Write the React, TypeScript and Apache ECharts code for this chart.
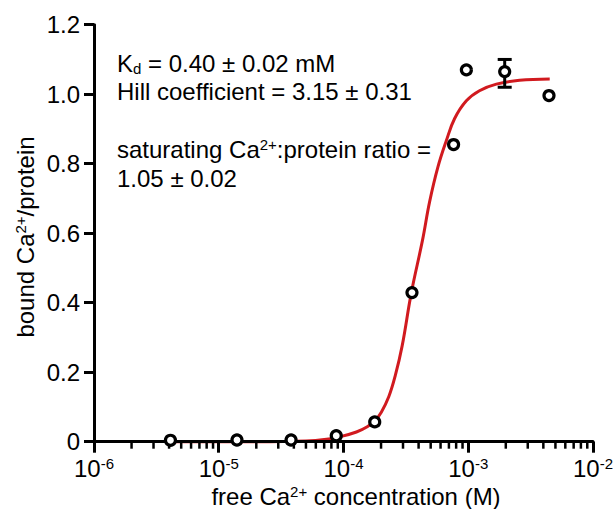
import React, { useEffect, useRef } from "react";
import * as echarts from "echarts";

// Measured data points (free Ca2+ in M, bound Ca2+/protein)
const concentrations = [4.1e-6, 1.4e-5, 3.8e-5, 8.75e-5, 1.78e-4, 3.54e-4, 7.63e-4, 9.66e-4, 1.96e-3, 4.44e-3];
const bound = [0.004, 0.005, 0.005, 0.017, 0.057, 0.429, 0.855, 1.07, 1.065, 0.996];

// Error bar (only visible one)
const errorX = [1.96e-3];
const errorLow = [1.02];
const errorHigh = [1.10];

// Fitted curve
const fitX = [4.1e-6, 2e-5, 5e-5, 7.3e-5, 9.3e-5, 1.27e-4, 1.55e-4, 1.78e-4, 2.01e-4, 2.31e-4, 2.6e-4, 2.95e-4, 3.5e-4, 4.3e-4, 4.9e-4, 5.71e-4, 6.67e-4, 7.78e-4, 9.66e-4, 1.23e-3, 1.68e-3, 2.58e-3, 4.5e-3];
const fitY = [0, 0, 0.002, 0.007, 0.014, 0.028, 0.043, 0.06, 0.085, 0.13, 0.19, 0.275, 0.429, 0.58, 0.69, 0.79, 0.866, 0.93, 0.981, 1.01, 1.029, 1.04, 1.044];

// Minor tick positions on the log axis
const minorTickValues: number[] = [];
[1e-6, 1e-5, 1e-4, 1e-3].forEach((d) => {
  [2, 3, 4, 5, 6, 7, 8, 9].forEach((m) => minorTickValues.push(m * d));
});

const annotationLines = [
  "{t|K}{sub|d}{t| = 0.40 ± 0.02 mM}",
  "{t|Hill coefficient = 3.15 ± 0.31}",
  "{t|saturating Ca}{sup|2+}{t|:protein ratio =}",
  "{t|1.05 ± 0.02}",
];

const FONT = "'Liberation Sans', Arial, Helvetica, sans-serif";
const FS = 24;

export default function App() {
  const ref = useRef<HTMLDivElement>(null);
  useEffect(() => {
    document.body.style.margin = "0";
    if (!ref.current) return;
    const chart = echarts.init(ref.current, null, { renderer: "svg" });
    const richBase = {
      t: { fontSize: FS, fontFamily: FONT, color: "#000" },
      sup: { fontSize: 15, fontFamily: FONT, color: "#000", padding: [0, 0, 10, 0] },
      sub: { fontSize: 15, fontFamily: FONT, color: "#000", padding: [10, 0, 0, 0] },
    };
    const annY = [63, 91, 149, 178];
    const option: any = {
      animation: false,
      grid: { left: 94, right: 22, top: 24.7, bottom: 67.3, containLabel: false },
      xAxis: {
        type: "log",
        logBase: 10,
        min: 1e-6,
        max: 1e-2,
        z: 3,
        axisLine: { show: true, onZero: false, lineStyle: { color: "#000", width: 3 } },
        axisTick: { show: true, length: 11, lineStyle: { color: "#000", width: 3 } },
        splitLine: { show: false },
        axisLabel: {
          margin: 14,
          formatter: (v: number) => `{b|10}{s|${Math.round(Math.log10(v))}}`,
          rich: {
            b: { fontSize: FS, fontFamily: FONT, color: "#000" },
            s: { fontSize: 15, fontFamily: FONT, color: "#000", padding: [0, 0, 10, 0] },
          },
        },
      },
      yAxis: {
        type: "value",
        min: 0,
        max: 1.2,
        interval: 0.2,
        z: 3,
        axisLine: { show: true, lineStyle: { color: "#000", width: 3 } },
        axisTick: { show: true, length: 10, lineStyle: { color: "#000", width: 3 } },
        splitLine: { show: false },
        axisLabel: {
          margin: 14,
          fontSize: FS,
          fontFamily: FONT,
          color: "#000",
          formatter: (v: number) => (v === 0 ? "0" : v.toFixed(1)),
        },
      },
      series: [
        {
          type: "custom",
          z: 4,
          clip: false,
          silent: true,
          data: minorTickValues.map((x) => [x, 0]),
          renderItem: (params: any, api: any) => {
            const p = api.coord([api.value(0), 0]);
            return {
              type: "line",
              shape: { x1: p[0], y1: p[1], x2: p[0], y2: p[1] + 7 },
              style: { stroke: "#000", lineWidth: 2.5 },
            };
          },
        },
        {
          type: "line",
          z: 2,
          data: fitX.map((x, i) => [x, fitY[i]]),
          showSymbol: false,
          smooth: 0.4,
          lineStyle: { color: "#d11a1f", width: 3 },
          clip: false,
        },
        {
          type: "custom",
          z: 5,
          clip: false,
          data: errorX.map((x, i) => [x, errorLow[i], errorHigh[i]]),
          renderItem: (params: any, api: any) => {
            const lo = api.coord([api.value(0), api.value(1)]);
            const hi = api.coord([api.value(0), api.value(2)]);
            const hw = 7;
            const st = { stroke: "#000", lineWidth: 3 };
            return {
              type: "group",
              children: [
                { type: "line", shape: { x1: lo[0], y1: lo[1], x2: hi[0], y2: hi[1] }, style: st },
                { type: "line", shape: { x1: lo[0] - hw, y1: lo[1], x2: lo[0] + hw, y2: lo[1] }, style: st },
                { type: "line", shape: { x1: hi[0] - hw, y1: hi[1], x2: hi[0] + hw, y2: hi[1] }, style: st },
              ],
            };
          },
        },
        {
          type: "scatter",
          z: 6,
          clip: false,
          data: concentrations.map((x, i) => [x, bound[i]]),
          symbol: "circle",
          symbolSize: 10,
          itemStyle: { color: "#fff", borderColor: "#000", borderWidth: 3.2, opacity: 1 },
        },
      ],
      graphic: [
        ...annotationLines.map((txt, i) => ({
          type: "text",
          x: 117,
          y: annY[i],
          style: {
            text: txt,
            rich: richBase,
            align: "left",
            verticalAlign: "middle",
          },
        })),
        {
          type: "text",
          x: 25,
          y: 237,
          rotation: Math.PI / 2,
          style: {
            text: "{t|bound Ca}{sup|2+}{t|/protein}",
            rich: richBase,
            align: "center",
            verticalAlign: "middle",
          },
        },
        {
          type: "text",
          x: 356,
          y: 496,
          style: {
            text: "{t|free Ca}{sup|2+}{t| concentration (M)}",
            rich: richBase,
            align: "center",
            verticalAlign: "middle",
          },
        },
      ],
    };
    chart.setOption(option);
    return () => chart.dispose();
  }, []);
  return <div ref={ref} style={{ width: 616, height: 509 }} />;
}
